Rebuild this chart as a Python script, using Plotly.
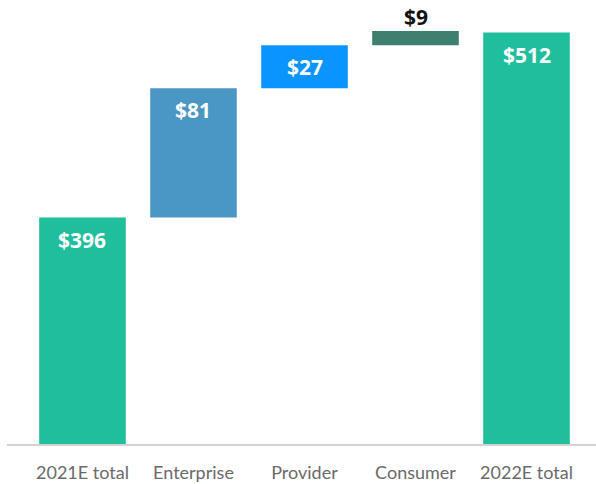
import plotly.graph_objects as go

categories = ["2021E total", "Enterprise", "Provider", "Consumer", "2022E total"]
values = [396, 81, 27, 9, 512]
kinds = ["total", "delta", "delta", "delta", "total"]
labels = ["$396", "$81", "$27", "$9", "$512"]

colors = ["#1FBE9D", "#4A96C4", "#0A94FE", "#3E7F6F", "#1FBE9D"]

# compute bases through running sum
bases = []
running = 0
for v, k in zip(values, kinds):
    if k == "total":
        bases.append(0)
        running = v
    else:
        bases.append(running)
        running += v
tops = [b + v for b, v in zip(bases, values)]

fig = go.Figure()
fig.add_trace(go.Bar(
    x=categories, y=values, base=bases,
    marker=dict(color=colors, line=dict(width=0)),
    width=0.78, hoverinfo="skip",
))

for i, (c, t, lab) in enumerate(zip(categories, tops, labels)):
    inside = i != 3
    fig.add_annotation(
        x=c, y=t, text="<b>%s</b>" % lab, showarrow=False,
        yanchor="middle",
        yshift=-22 if inside else 14,
        font=dict(family="Open Sans", size=21,
                  color="white" if inside else "#111111"),
    )

fig.update_layout(
    width=596, height=484,
    margin=dict(l=7, r=0, t=0, b=40),
    paper_bgcolor="white", plot_bgcolor="white",
    showlegend=False,
    xaxis=dict(
        range=[-0.68, 4.626], showgrid=False, showline=True,
        linecolor="#d3d3d3", linewidth=1.5, ticks="",
        tickfont=dict(family="Lato", size=18, color="#6a6a6a"),
        ticklabelstandoff=12, fixedrange=True,
    ),
    yaxis=dict(range=[254, 532.4], visible=False, showgrid=False, fixedrange=True),
)

fig.write_html("out.html", config={"displayModeBar": False},
               post_script="document.body.style.margin='0';document.body.style.overflow='hidden';")
